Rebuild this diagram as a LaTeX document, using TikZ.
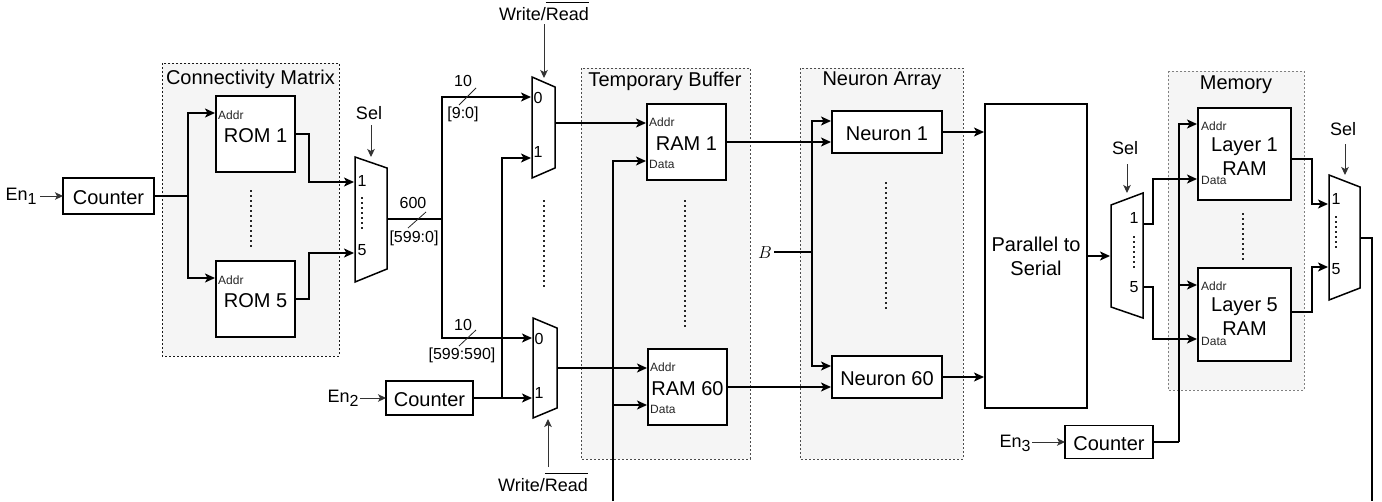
\documentclass[tikz,border=0pt]{standalone}
\usepackage{fontspec}
\setmainfont{Liberation Sans}
\usetikzlibrary{arrows.meta}
\newcommand{\fsz}[1]{\fontsize{#1}{#1}\selectfont}
\newcommand{\subn}[1]{\raisebox{-4pt}{\fsz{16}#1}}
\newcommand{\wrd}{Write/$\overline{\hbox{\rule{0pt}{16pt}Read}}$}
\tikzset{
  panel/.style={fill=black!4, line width=0.8pt, dash pattern=on 2pt off 2pt},
  blockbox/.style={draw, fill=white, line width=1.5pt, inner sep=0pt, outer sep=0pt, font=\fsz{20}, align=center},
  onetext/.style={text height=17.5pt, text depth=0pt},
  muxshape/.style={draw, fill=white, line width=1.5pt, line join=miter},
  muxarea/.style={inner sep=0pt, outer sep=0pt},
  wire/.style={line width=1.5pt},
  arr/.style={-{Stealth[length=10pt,width=9pt,inset=2.5pt]}, shorten >=1pt},
  thinarr/.style={line width=1pt, black!80, -{Stealth[length=8pt,width=7.5pt,inset=2pt]}},
  dotline/.style={line width=1.6pt, black!85, dash pattern=on 2pt off 3pt},
  title/.style={font=\fsz{20}, inner sep=0pt},
  lbl/.style={font=\fsz{18}, inner sep=0pt},
  num/.style={font=\fsz{16}, inner sep=0pt},
  port/.style={font=\fsz{12}, inner sep=0pt, anchor=west, text=black!85},
  slash/.style={line width=0.8pt, black!85},
}
\begin{document}
\begin{tikzpicture}[x=1pt,y=-1pt]
\useasboundingbox (0,0) rectangle (1382,501);
\fill[white] (0,0) rectangle (1382,501);
% panels
\draw[panel,draw=black!90] (162,63) rectangle (339,356);
\draw[panel,draw=black!70] (581,68) rectangle (750,459);
\draw[panel,draw=black!70] (800,68) rectangle (963,459);
\draw[panel,draw=black!50] (1168,71) rectangle (1304,390);
\node[title] (tcm) at (250.5,79) {Connectivity Matrix};
\node[title] (ttb) at (665,81) {Temporary Buffer};
\node[title] (tna) at (882,81) {Neuron Array};
\node[title] (tme) at (1236,85) {Memory};
% mux areas
\node[muxarea, minimum width=32pt, minimum height=125pt] (mux1) at (371,219) {};
\node[muxarea, minimum width=23pt, minimum height=101pt] (mux2) at (543.5,123) {};
\node[muxarea, minimum width=24pt, minimum height=100pt] (mux3) at (545,368) {};
\node[muxarea, minimum width=32pt, minimum height=125pt] (mux4) at (1127,256) {};
\node[muxarea, minimum width=31pt, minimum height=125pt] (mux5) at (1344.5,238) {};
% ports and junctions
\coordinate (cnt1j) at (188,196);
\coordinate (rom1a) at (216,113);
\coordinate (rom5a) at (216,278);
\coordinate (m1i1) at (355,182);
\coordinate (m1i5) at (355,253);
\coordinate (rom1k) at (309,134);
\coordinate (rom5k) at (309,299);
\coordinate (split) at (442,219);
\coordinate (m2i0) at (532,97);
\coordinate (m2i1) at (532,158);
\coordinate (m3i0) at (533,338);
\coordinate (m3i1) at (533,398);
\coordinate (cnt2j) at (502,398);
\coordinate (ram1a) at (647,123);
\coordinate (ram1d) at (647,161);
\coordinate (ram60a) at (648,368);
\coordinate (ram60d) at (648,405);
\coordinate (busj) at (613,405);
\coordinate (busend) at (613,501);
\coordinate (n1a) at (832,121);
\coordinate (n1b) at (832,142);
\coordinate (n60a) at (832,366);
\coordinate (n60b) at (832,387);
\coordinate (bj) at (812,252);
\coordinate (ps1) at (985,132);
\coordinate (ps60) at (985,377);
\coordinate (m4o1) at (1143,224);
\coordinate (m4o5) at (1143,287);
\coordinate (l1a) at (1198,124);
\coordinate (l1d) at (1198,179);
\coordinate (l5a) at (1198,285);
\coordinate (l5d) at (1198,339);
\coordinate (cnt3j) at (1179,442);
\coordinate (l1o) at (1291,159);
\coordinate (l5o) at (1291,312);
\coordinate (m5i1) at (1329,204);
\coordinate (m5i5) at (1329,267);
\coordinate (m5o) at (1360,238);
\coordinate (outend) at (1372,501);
% control label ends
\coordinate (en1e) at (40,196);
\coordinate (en2e) at (360,398);
\coordinate (en3e) at (1032,442);
\coordinate (sel1s) at (371,125);
\coordinate (sel1e) at (371,157);
\coordinate (wr1s) at (544,24);
\coordinate (wr1e) at (544,78);
\coordinate (wr2s) at (548,467);
\coordinate (wr2e) at (548,419);
\coordinate (sel4s) at (1127,164);
\coordinate (sel4e) at (1127,193);
\coordinate (sel5s) at (1345,144);
\coordinate (sel5e) at (1345,175);
\coordinate (bs) at (774,252);
% blocks
\node[blockbox, onetext, minimum width=91pt, minimum height=36pt] (cnt1) at (108.5,196) {Counter};
\node[blockbox, onetext, minimum width=79pt, minimum height=76pt] (rom1) at (255.5,134) {ROM 1};
\node[blockbox, onetext, minimum width=79pt, minimum height=76pt] (rom5) at (255.5,299) {ROM 5};
\node[blockbox, onetext, minimum width=87pt, minimum height=34pt] (cnt2) at (429.5,398) {Counter};
\node[blockbox, onetext, minimum width=79pt, minimum height=76pt] (ram1) at (686.5,142) {RAM 1};
\node[blockbox, onetext, minimum width=79pt, minimum height=76pt] (ram60) at (687.5,387) {RAM 60};
\node[blockbox, onetext, minimum width=110pt, minimum height=42pt] (neu1) at (887,132) {Neuron 1};
\node[blockbox, onetext, minimum width=110pt, minimum height=42pt] (neu60) at (887,377) {Neuron 60};
\node[blockbox, minimum width=102pt, minimum height=304pt] (p2s) at (1036,256) {Parallel to\\[4pt]Serial};
\node[blockbox, onetext, minimum width=88pt, minimum height=33pt] (cnt3) at (1109,442) {Counter};
\node[blockbox, minimum width=93pt, minimum height=92pt] (lay1) at (1244.5,154) {\rule{0pt}{18pt}Layer 1\\[4pt]RAM};
\node[blockbox, minimum width=93pt, minimum height=93pt] (lay5) at (1244.5,314.5) {\rule{0pt}{18pt}Layer 5\\[4pt]RAM};
% mux bodies
\draw[muxshape] (355,157) -- (387,168) -- (387,269) -- (355,282) -- cycle;
\draw[muxshape] (532,77) -- (555,87) -- (555,168) -- (532,178) -- cycle;
\draw[muxshape] (533,318) -- (557,328) -- (557,408) -- (533,418) -- cycle;
\draw[muxshape] (1111,205) -- (1143,193) -- (1143,318) -- (1111,307) -- cycle;
\draw[muxshape] (1329,175) -- (1360,187) -- (1360,288) -- (1329,300) -- cycle;
% mux numbers
\node[num] (m1n1) at (362,181) {1};
\node[num] (m1n5) at (362,250) {5};
\node[num] (m2n0) at (538,98) {0};
\node[num] (m2n1) at (538,152) {1};
\node[num] (m3n0) at (539,339) {0};
\node[num] (m3n1) at (539,393) {1};
\node[num] (m4n1) at (1134,218) {1};
\node[num] (m4n5) at (1134,287) {5};
\node[num] (m5n1) at (1336,199) {1};
\node[num] (m5n5) at (1336,269) {5};
% port names
\node[port] (pa1) at (218,115) {Addr};
\node[port] (pa2) at (218,280) {Addr};
\node[port] (pa3) at (649,122) {Addr};
\node[port] (pd3) at (649,164) {Data};
\node[port] (pa4) at (650,367) {Addr};
\node[port] (pd4) at (650,409) {Data};
\node[port] (pa5) at (1201,126) {Addr};
\node[port] (pd5) at (1201,180) {Data};
\node[port] (pa6) at (1201,286) {Addr};
\node[port] (pd6) at (1201,341) {Data};
% wires
\draw[wire] (cnt1.east) -- (cnt1j);
\draw[wire,arr] (cnt1j) |- (rom1a);
\draw[wire,arr] (cnt1j) |- (rom5a);
\draw[wire,arr] (rom1.east) -- (rom1k) |- (m1i1);
\draw[wire,arr] (rom5.east) -- (rom5k) |- (m1i5);
\draw[wire] (mux1.east) -- (split);
\draw[wire,arr] (split) |- (m2i0);
\draw[wire,arr] (split) |- (m3i0);
\draw[wire,arr] (cnt2.east) -- (m3i1);
\draw[wire,arr] (cnt2j) |- (m2i1);
\draw[wire,arr] (mux2.east) -- (ram1a);
\draw[wire,arr] (mux3.east) -- (ram60a);
\draw[wire] (busend) -- (busj);
\draw[wire,arr] (busj) |- (ram1d);
\draw[wire,arr] (busj) -- (ram60d);
\draw[wire,arr] (ram1.east) -- (n1b);
\draw[wire,arr] (ram60.east) -- (n60b);
\draw[wire] (bs) -- (bj);
\draw[wire,arr] (bj) |- (n1a);
\draw[wire,arr] (bj) |- (n60a);
\draw[wire,arr] (neu1.east) -- (ps1);
\draw[wire,arr] (neu60.east) -- (ps60);
\draw[wire,arr] (p2s.east) -- (mux4.west);
\draw[wire,arr] (m4o1) -- ++(10,0) |- (l1d);
\draw[wire,arr] (m4o5) -- ++(10,0) |- (l5d);
\draw[wire] (cnt3.east) -- (cnt3j);
\draw[wire,arr] (cnt3j) |- (l1a);
\draw[wire,arr] (cnt3j |- l5a) -- (l5a);
\draw[wire,arr] (l1o) -- ++(21,0) |- (m5i1);
\draw[wire,arr] (l5o) -- ++(21,0) |- (m5i5);
\draw[wire] (m5o) -- ++(12,0) -- (outend);
% control inputs
\node[lbl] (en1) at (21,196) {En\subn{1}};
\node[lbl] (en2) at (343,398) {En\subn{2}};
\node[lbl] (en3) at (1015,443) {En\subn{3}};
\draw[thinarr] (en1e) -- (cnt1.west);
\draw[thinarr] (en2e) -- (cnt2.west);
\draw[thinarr] (en3e) -- (cnt3.west);
\node[lbl] (sel1) at (369,113) {Sel};
\node[lbl] (sel4) at (1125,148) {Sel};
\node[lbl] (sel5) at (1343,129) {Sel};
\node[lbl, anchor=base] (wr1) at (544,20) {\wrd};
\node[lbl, anchor=base] (wr2) at (543,491) {\wrd};
\draw[thinarr] (sel1s) -- (sel1e);
\draw[thinarr] (sel4s) -- (sel4e);
\draw[thinarr] (sel5s) -- (sel5e);
\draw[thinarr] (wr1s) -- (wr1e);
\draw[thinarr] (wr2s) -- (wr2e);
\node[lbl] (blabel) at (765,253) {$B$};
% bus labels
\draw[slash] (408,228) -- (426,212);
\draw[slash] (459,105) -- (476,88);
\draw[slash] (459,346) -- (476,330);
\node[num] (w600) at (413,203) {600};
\node[num] (b600) at (414,238) {[599:0]};
\node[num] (w10a) at (463,81) {10};
\node[num] (b10a) at (463,114) {[9:0]};
\node[num] (w10b) at (463,325) {10};
\node[num] (b10b) at (462,355) {[599:590]};
% ellipses
\draw[dotline] (251,190) -- (251,247);
\draw[dotline] (362,197) -- (362,230);
\draw[dotline] (544,200) -- (544,288);
\draw[dotline] (685,200) -- (685,329);
\draw[dotline] (886,182) -- (886,311);
\draw[dotline] (1134,236) -- (1134,269);
\draw[dotline] (1243,213) -- (1243,260);
\draw[dotline] (1336,216) -- (1336,249);
\end{tikzpicture}
\end{document}
